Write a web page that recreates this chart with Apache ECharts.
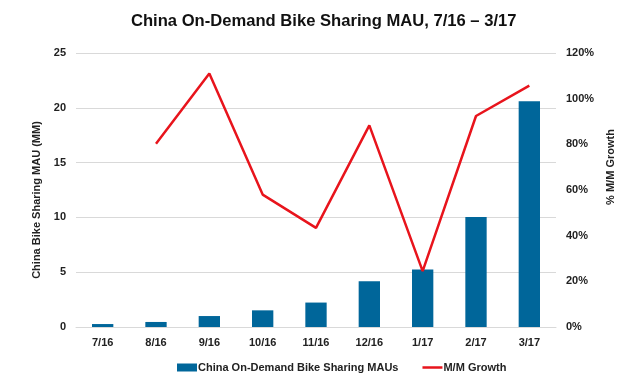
<!DOCTYPE html>
<html><head><meta charset="utf-8">
<script src="https://cdn.jsdelivr.net/npm/echarts@6/dist/echarts.min.js"></script>
<style>html,body{margin:0;padding:0;background:#fff}#c{width:627px;height:381px}</style>
</head><body><div id="c"></div>
<script>
var categories = ['7/16','8/16','9/16','10/16','11/16','12/16','1/17','2/17','3/17'];
var mau = [0.27, 0.46, 1.0, 1.52, 2.23, 4.17, 5.24, 10.04, 20.6];
var growth = [null, 80.3, 111, 58, 43.4, 88.3, 24.5, 92.4, 105.7];
var font = 'Liberation Sans, Arial, sans-serif';
var chart = echarts.init(document.getElementById('c'), null, {renderer:'canvas'});
chart.setOption({
  animation:false,
  title:{text:'China On-Demand Bike Sharing MAU, 7/16 \u2013 3/17', left:126, top:8,
    textStyle:{fontFamily:font, fontSize:16.6, fontWeight:'bold', color:'#111'}},
  grid:{left:76, right:71, top:53, bottom:54, containLabel:false},
  legend:{top:357, left:172, itemGap:24, itemWidth:20, itemHeight:8,
    textStyle:{fontFamily:font, fontSize:11, fontWeight:'bold', color:'#222', padding:[0,0,0,-4]},
    data:[{name:'China On-Demand Bike Sharing MAUs', icon:'rect'},
          {name:'M/M Growth', icon:'path://M0,0H0.01V0.01H0Z M0,2.8H20V5.2H0Z M0,8H0.01V8.01H0Z'}]},
  xAxis:{type:'category', data:categories,
    axisLine:{lineStyle:{color:'#d9d9d9'}}, axisTick:{show:false},
    axisLabel:{fontFamily:font, fontSize:11, fontWeight:'bold', color:'#222', margin:10}},
  yAxis:[
    {type:'value', min:0, max:25, interval:5,
     name:'China Bike Sharing MAU (MM)', nameLocation:'middle', nameGap:30, nameRotate:90,
     nameTextStyle:{fontFamily:font, fontSize:11, fontWeight:'bold', color:'#222', padding:[0,20,0,0]},
     axisLabel:{fontFamily:font, fontSize:11, fontWeight:'bold', color:'#222', margin:10},
     splitLine:{lineStyle:{color:'#d9d9d9'}}, axisLine:{show:false}, axisTick:{show:false}},
    {type:'value', min:0, max:120, interval:20, position:'right',
     name:'% M/M Growth', nameLocation:'middle', nameGap:46, nameRotate:90,
     nameTextStyle:{fontFamily:font, fontSize:11, fontWeight:'bold', color:'#222', padding:[0,0,0,46]},
     axisLabel:{fontFamily:font, fontSize:11, fontWeight:'bold', color:'#222', margin:10, formatter:'{value}%'},
     splitLine:{show:false}, axisLine:{show:false}, axisTick:{show:false}}
  ],
  series:[
    {name:'China On-Demand Bike Sharing MAUs', type:'bar', data:mau, barWidth:'40%',
     itemStyle:{color:'#00669a'}},
    {name:'M/M Growth', type:'line', yAxisIndex:1, data:growth, showSymbol:false, symbol:'none',
     lineStyle:{color:'#e8141c', width:2.5}, itemStyle:{color:'#e8141c'}}
  ]
});
</script></body></html>
